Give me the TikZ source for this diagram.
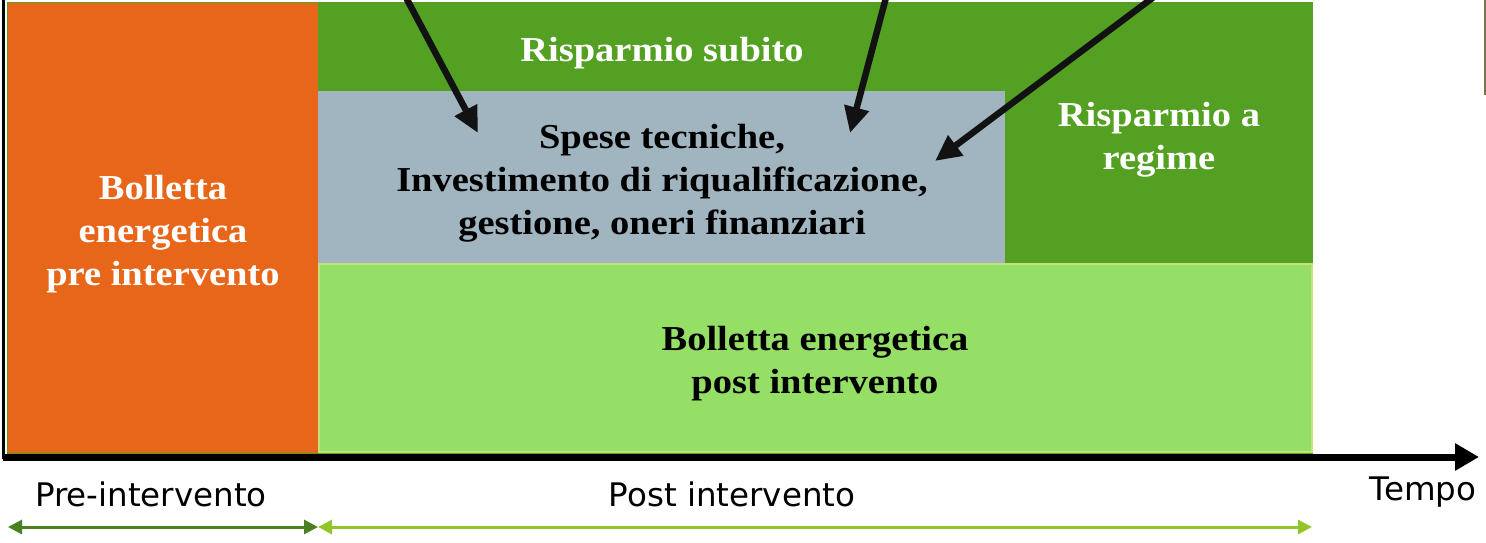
\documentclass[tikz,border=0pt]{standalone}
\usepackage{fontspec}
\setmainfont{Liberation Serif}
\newfontfamily\boxfont{Liberation Serif}[FakeStretch=1.1]
\newfontfamily\labfont{DejaVu Sans}
\usetikzlibrary{arrows.meta}
\definecolor{orangeA}{HTML}{E8661A}
\definecolor{dkgreen}{HTML}{54A023}
\definecolor{grayblue}{HTML}{A1B5C0}
\definecolor{ltgreen}{HTML}{96DF66}
\definecolor{ltgreenedge}{HTML}{C3E27A}
\definecolor{arrdark}{HTML}{4A7F22}
\definecolor{arrlight}{HTML}{93C42A}
\definecolor{olive}{HTML}{7A7350}
\begin{document}
\begin{tikzpicture}[x=1pt,y=-1pt,
  box/.style={anchor=north west,inner sep=0pt,outer sep=0pt,align=center},
  wtext/.style={text=white,font=\boxfont\fontsize{35}{43}\selectfont\bfseries,align=center},
  btext/.style={text=black,font=\boxfont\fontsize{35}{43}\selectfont\bfseries,align=center},
  pointer/.style={line width=6.5pt,draw=black!93,-{Triangle[length=26pt,width=24pt]}},
  span/.style={line width=3pt,{Triangle[length=14pt,width=14pt]}-{Triangle[length=14pt,width=14pt]}},
  axislab/.style={font=\labfont\fontsize{32.5}{38}\selectfont,text=black}]
\useasboundingbox (0,0) rectangle (1486,543);
% background green frame
\node[box,fill=dkgreen,minimum width=1306pt,minimum height=452pt] (frame) at (7,2) {};
% orange pre-intervention box
\node[box,fill=orangeA,minimum width=310pt,minimum height=450pt] (pre) at (8,3) {};
\node[wtext] (pretext) at (163,234) {Bolletta\\energetica\\pre intervento};
% top savings band
\node[box,fill=dkgreen,minimum width=995pt,minimum height=260pt] (top) at (318,3) {};
\node[wtext] (subito) at (662,53) {Risparmio subito};
% gray costs box
\node[box,fill=grayblue,minimum width=687pt,minimum height=172pt] (costs) at (318,91) {};
\node[btext] (coststext) at (662,183) {Spese tecniche,\\Investimento di riqualificazione,\\gestione, oneri finanziari};
\node[wtext] (regime) at (1159,140) {Risparmio a\\regime};
% light green post box
\node[box,fill=ltgreen,draw=ltgreenedge,line width=2pt,minimum width=993pt,minimum height=188pt] (post) at (319,264) {};
\node[btext] (posttext) at (815,364) {Bolletta energetica\\post intervento};
% pointers from above
\coordinate (s1) at (402,-10);
\coordinate (e1) at (478,133);
\coordinate (s2) at (888,-10);
\coordinate (e2) at (850,133);
\coordinate (s3) at (1163,-10);
\coordinate (e3) at (935,161);
\draw[pointer] (s1) -- (e1);
\draw[pointer] (s2) -- (e2);
\draw[pointer] (s3) -- (e3);
% axes
\coordinate (o) at (3,457);
\coordinate (ytop) at (3,0);
\coordinate (tend) at (1479,457);
\draw[line width=3pt] (ytop) -- (3,459);
\draw[line width=7pt,-{Triangle[length=24pt,width=26pt]}] (o) -- (tend);
\node[axislab,anchor=east] (tempo) at (1480,492) {Tempo};
\node[axislab] (prelab) at (151,494) {Pre-intervento};
\node[axislab] (postlab) at (732,494) {Post intervento};
% span arrows
\coordinate (a0) at (8,527);
\coordinate (a1) at (318,527);
\coordinate (a2) at (1312,527);
\draw[span,draw=arrdark,fill=arrdark] (a0) -- (a1);
\draw[span,draw=arrlight,fill=arrlight] (a1) -- (a2);
% edge of object at top right
\draw[olive,line width=2pt] (1484.5,0) -- (1484.5,95);
\end{tikzpicture}
\end{document}
